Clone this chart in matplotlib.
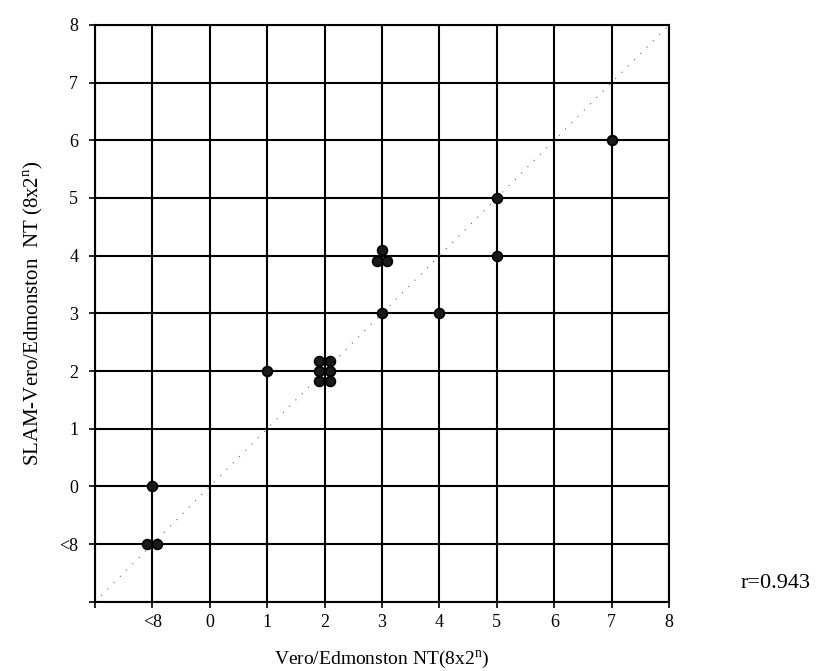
import matplotlib.pyplot as plt

plt.rcParams['font.family'] = ['Liberation Serif', 'DejaVu Serif']
plt.rcParams['mathtext.fontset'] = 'custom'
plt.rcParams['mathtext.rm'] = 'Liberation Serif'

# titre categories shown on both axes ("<8" sits below 0)
titres = ['<8', '0', '1', '2', '3', '4', '5', '6', '7', '8']

# paired neutralisation titres and number of sera at each pair
vero_nt = ['<8', '<8', '1', '2', '3', '3', '4', '5', '5', '7']
slam_nt = ['0', '<8', '2', '2', '4', '3', '3', '4', '5', '6']
n_sera = [1, 2, 1, 6, 3, 1, 1, 1, 1, 1]

r_value = 0.943

# small spread so coincident sera stay visible
d = 0.09
spread = {
    1: [(0, 0)],
    2: [(-d, 0), (d, 0)],
    3: [(0, d), (-d, -d), (d, -d)],
    6: [(-d, -2 * d), (d, -2 * d), (-d, 0), (d, 0), (-d, 2 * d), (d, 2 * d)],
}

pos = {t: i - 1 for i, t in enumerate(titres)}

xs, ys = [], []
for vx, vy, n in zip(vero_nt, slam_nt, n_sera):
    for dx, dy in spread[n]:
        xs.append(pos[vx] + dx)
        ys.append(pos[vy] + dy)

fig = plt.figure(figsize=(8.18, 6.71), dpi=100)
ax = fig.add_axes([0.116, 0.103, 0.702, 0.860])

lo, hi = -2, 8
ax.set_xlim(lo, hi)
ax.set_ylim(lo, hi)

ticks = list(range(lo, hi + 1))
labels = [''] + titres
ax.set_xticks(ticks)
ax.set_xticklabels(labels, fontsize=13)
ax.set_yticks(ticks)
ax.set_yticklabels(labels, fontsize=13)
ax.tick_params(direction='inout', length=8, width=1.2, pad=5,
               color='black')
ax.tick_params(axis='y', pad=8)

ax.grid(True, color='black', linewidth=1.5)
ax.set_axisbelow(True)
for sp in ax.spines.values():
    sp.set_linewidth(1.5)

# line of equality
ax.plot([lo, hi], [lo, hi], color='0.4', linewidth=0.8,
        linestyle=(0, (1, 7)), zorder=2)

ax.scatter(xs, ys, s=50, facecolor='#1a1a1a', edgecolor='black',
           linewidth=1.2, zorder=3)

ax.set_xlabel('Vero/Edmonston NT(8x2$^{\\mathrm{n}}$)', fontsize=14,
              labelpad=12)
ax.set_ylabel('SLAM-Vero/Edmonston  NT (8x2$^{\\mathrm{n}}$)', fontsize=15,
              labelpad=10)

fig.text(0.905, 0.13, f'r={r_value}', fontsize=16, va='center')

fig.savefig('out.png', dpi=100)
